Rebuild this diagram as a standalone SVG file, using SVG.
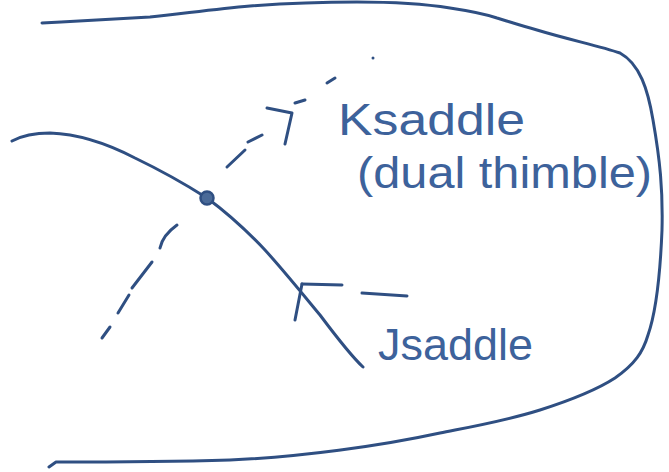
<svg xmlns="http://www.w3.org/2000/svg" width="669" height="472" viewBox="0 0 669 472">
<style>
.ln{fill:none;stroke:#2f4f82;stroke-width:3;stroke-linecap:round;stroke-linejoin:round}
.lbl{font-family:"Liberation Sans",Arial,sans-serif;font-size:44px;fill:#3d629b}
</style>
<rect width="669" height="472" fill="#ffffff"/>
<g id="boundary">
<path class="ln" d="M42,23 C80,21 120,19 150,17 C180,14 215,9 250,6 C290,3 330,2 357,2 C390,2 425,4 450,8 C470,11 485,14 497,18 C510,22 522,26 537,30 C570,40 600,46 620,53 C640,64 648,90 653,120 C660,160 663,190 662,230 C660,280 655,315 648,335 C643,352 635,364 615,378 C595,391 565,402 540,410 C505,421 470,427 440,433 C380,446 300,457 230,460 C160,462 90,462 56,462 L49,467"/>
</g>
<g id="jsaddle-curve">
<path class="ln" d="M12,141 C25,134 38,133 50,133 C80,134 110,145 135,158 C160,170 185,184 207,198 C230,215 248,232 265,250 C285,272 305,297 320,315 C335,335 350,355 363,367"/>
</g>
<g id="saddle-point">
<circle cx="207" cy="198" r="6.5" fill="#4a6a98" stroke="#2f4f82" stroke-width="2.5"/>
</g>
<g id="connectors">
<g class="ln">
<path d="M102,338 L110,327"/>
<path d="M118,313 L129,295"/>
<path d="M132,288 L152,262"/>
<path d="M160,248 C162,238 170,230 177,225"/>
<path d="M227,167 L245,150"/>
<path d="M248,142 L262,135"/>
<path d="M267,108 L292,113 L285,144"/>
<path d="M295,103 L305,100"/>
<path d="M327,83 L335,78"/>
<path d="M302,284 L342,285"/>
<path d="M302,284 L295,320"/>
<path d="M362,293 L407,296"/>
</g>
<circle cx="373" cy="58" r="1.5" fill="#2f4f82"/>
</g>
<g id="ksaddle-label">
<text class="lbl" x="338" y="135" textLength="187" lengthAdjust="spacingAndGlyphs">Ksaddle</text>
<text class="lbl" x="357" y="188" textLength="295" lengthAdjust="spacingAndGlyphs">(dual thimble)</text>
</g>
<g id="jsaddle-label">
<text class="lbl" x="378" y="360" textLength="155" lengthAdjust="spacingAndGlyphs">Jsaddle</text>
</g>
</svg>
